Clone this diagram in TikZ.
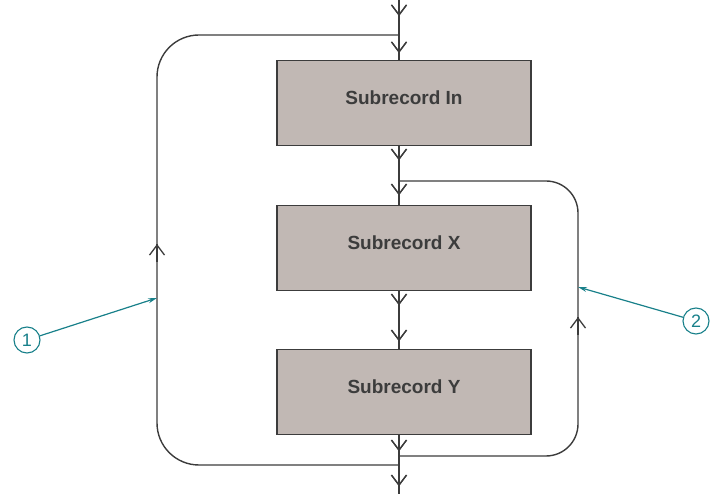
\documentclass[tikz,border=0pt]{standalone}
\usepackage{fontspec}
\setmainfont{Liberation Sans}
\usetikzlibrary{arrows.meta,decorations.markings}
\definecolor{boxfill}{HTML}{C1B8B4}
\definecolor{linec}{HTML}{3C3C3C}
\definecolor{teal2}{HTML}{18808A}
\tikzset{
  rec/.style={draw=linec,line width=1.4pt,fill=boxfill,minimum width=254pt,minimum height=85pt,inner sep=0pt},
  rectext/.style={font=\fontsize{19}{22}\selectfont\bfseries,text=linec,inner sep=0pt},
  flow/.style={draw=linec,line width=1.4pt},
  vt/.style={decoration={markings,mark=at position #1 with {\arrow{Straight Barb[length=10pt,width=15pt,line width=1.3pt]}}},postaction={decorate}},
  callout/.style={draw=teal2,line width=1.2pt,-{Stealth[length=9pt,width=5pt]}},
  num/.style={circle,draw=teal2,line width=1.1pt,minimum size=26pt,inner sep=0pt,text=teal2,font=\fontsize{18}{20}\selectfont}
}
\begin{document}
\begin{tikzpicture}[x=1pt,y=-1pt]
\useasboundingbox (0,0) rectangle (710,494);
\node[rec] (in) at (404,103) {};
\node[rec] (sx) at (404,248) {};
\node[rec] (sy) at (404,392) {};
\node[rectext] (inT) at ([yshift=5pt]in.center) {Subrecord In};
\node[rectext] (sxT) at ([yshift=5pt]sx.center) {Subrecord X};
\node[rectext] (syT) at ([yshift=5pt]sy.center) {Subrecord Y};
\coordinate (top) at (399,0);
\coordinate (bot) at (399,494);
\coordinate (tj) at (399,35);
\coordinate (mj) at (399,181);
\coordinate (rb) at (399,456);
\coordinate (lb) at (399,465);
% main spine
\draw[flow,vt=16pt,vt=53pt] (top) -- (in.north -| top);
\draw[flow,vt=14pt,vt=49pt] (in.south -| top) -- (sx.north -| top);
\draw[flow,vt=14pt,vt=50pt] (sx.south -| top) -- (sy.north -| top);
\draw[flow,vt=16pt,vt=51pt] (sy.south -| top) -- (bot);
% left loop
\draw[flow,rounded corners=42pt] (lb) -- (157,465) -- (157,35) -- (tj);
\draw[flow,vt=1] (157,262) -- (157,244);
% right loop
\draw[flow,rounded corners=32pt] (rb) -- (578,456) -- (578,181) -- (mj);
\draw[flow,vt=1] (578,335) -- (578,317);
% callouts
\node[num] (c1) at (27,340) {1};
\node[num] (c2) at (696,321) {2};
\coordinate (p1) at (157,298);
\coordinate (p2) at (578,287);
\draw[callout] (c1) -- (p1);
\draw[callout] (c2) -- (p2);
\end{tikzpicture}
\end{document}
